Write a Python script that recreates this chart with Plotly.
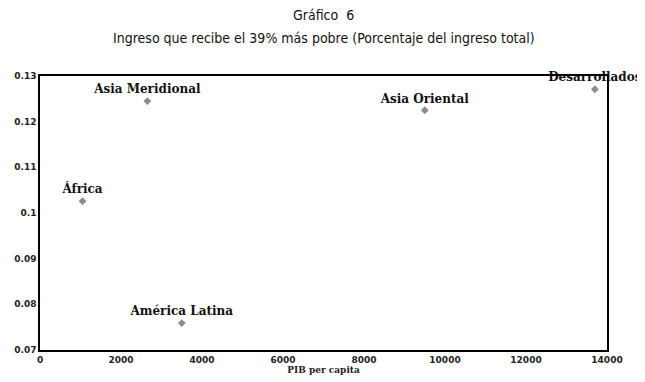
import plotly.graph_objects as go

regions = ["Asia Meridional", "Asia Oriental", "Desarrollados", "África", "América Latina"]
gdp_per_capita = [2650, 9500, 13700, 1050, 3500]
income_share = [0.1245, 0.1225, 0.1271, 0.1026, 0.0759]

x_ticks = [0, 2000, 4000, 6000, 8000, 10000, 12000, 14000]
y_ticks = [0.07, 0.08, 0.09, 0.10, 0.11, 0.12, 0.13]
y_tick_text = ["0.07", "0.08", "0.09", "0.1", "0.11", "0.12", "0.13"]

title_line1 = "Gráfico\u00a0\u00a06"
title_line2 = "Ingreso que recibe el 39% más pobre (Porcentaje del ingreso total)"
x_title = "PIB per capita"

fig = go.Figure()
fig.add_trace(go.Scatter(
    x=gdp_per_capita, y=income_share, mode="markers+text",
    text=regions, textposition="top center",
    textfont=dict(family="DejaVu Serif, serif", size=12, color="#111", weight="bold"),
    marker=dict(symbol="diamond", size=6, color="#8c8c8c"),
    cliponaxis=False, showlegend=False, hoverinfo="skip",
))

title_font = dict(family="DejaVu Sans Condensed, Liberation Sans Narrow, Arial Narrow, sans-serif", size=14, color="#111")
fig.add_annotation(text=title_line1, xref="paper", yref="paper", x=0.5, y=1 + 61/274,
                   yanchor="middle", showarrow=False, font=title_font)
fig.add_annotation(text=title_line2, xref="paper", yref="paper", x=0.5, y=1 + 38/274,
                   yanchor="middle", showarrow=False, font=title_font)

tick_font = dict(family="DejaVu Sans, sans-serif", size=9, color="#222", weight="bold")
fig.update_layout(
    width=637, height=374,
    margin=dict(l=32, r=38, t=68, b=32, autoexpand=False),
    paper_bgcolor="white", plot_bgcolor="white",
    xaxis=dict(range=[0, 14000], tickvals=x_ticks, ticktext=[str(v) for v in x_ticks],
               showgrid=False, zeroline=False, showline=True, mirror=True, automargin=False,
               linecolor="black", linewidth=1.5, ticks="", tickfont=tick_font,
               title=dict(text=x_title, standoff=0,
                          font=dict(family="DejaVu Serif, serif", size=9, color="#222", weight="bold"))),
    yaxis=dict(range=[0.07, 0.13], tickvals=y_ticks, ticktext=y_tick_text,
               showgrid=False, zeroline=False, showline=True, mirror=True, automargin=False,
               linecolor="black", linewidth=1.5, ticks="", tickfont=tick_font),
)

fig.write_html("out.html")
